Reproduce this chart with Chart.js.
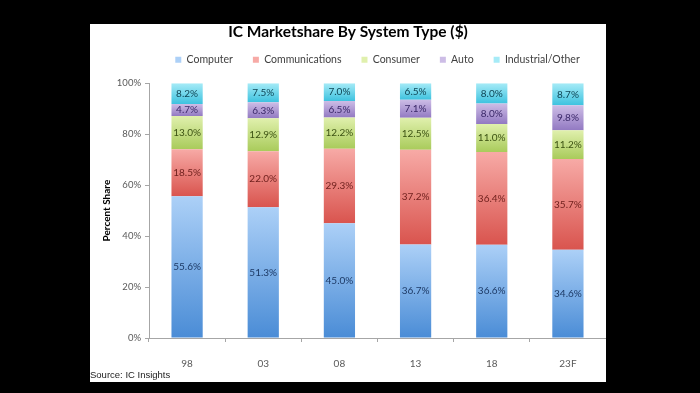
<!DOCTYPE html>
<html>
<head>
<meta charset="utf-8">
<script src="https://cdn.jsdelivr.net/npm/chart.js@4/dist/chart.umd.min.js"></script>
<style>
    html, body { margin: 0; padding: 0; background: #000; }
    body { width: 700px; height: 393px; position: relative; overflow: hidden; }
    #panel { position: absolute; left: 90px; top: 24px; width: 516px; height: 358px; background: #fff; }
    #chart { position: absolute; left: 0; top: 0; }
    #source { position: absolute; left: 0; top: 345px; font: 9.5px "Liberation Sans", Arial, sans-serif; color: #222; }
</style>
</head>
<body>
<div id="panel">
    <canvas id="chart" width="516" height="358"></canvas>
    <div id="source">Source: IC Insights</div>
</div>
<script>
//
// Data
//

const YEARS = [ '98', '03', '08', '13', '18', '23F' ]
const COMPUTER = [ 55.6, 51.3, 45.0, 36.7, 36.6, 34.6 ]
const COMMUNICATIONS = [ 18.5, 22.0, 29.3, 37.2, 36.4, 35.7 ]
const CONSUMER = [ 13.0, 12.9, 12.2, 12.5, 11.0, 11.2 ]
const AUTO = [ 4.7, 6.3, 6.5, 7.1, 8.0, 9.8 ]
const INDUSTRIAL = [ 8.2, 7.5, 7.0, 6.5, 8.0, 8.7 ]
const Y_TICKS = [ 0, 20, 40, 60, 80, 100 ]

// light top, dark bottom, legend swatch, label ink
const SERIES = [
    { label: 'Computer', data: COMPUTER, light: '#acd0f7', dark: '#4a8cd6', swatch: '#5b8fd4', ink: '#1d3a66' },
    { label: 'Communications', data: COMMUNICATIONS, light: '#f7aaa6', dark: '#d9544e', swatch: '#e0605a', ink: '#6e1f1c' },
    { label: 'Consumer', data: CONSUMER, light: '#e0f0ad', dark: '#a9cb5b', swatch: '#b7d66e', ink: '#3c5212' },
    { label: 'Auto', data: AUTO, light: '#cdbde6', dark: '#9279c2', swatch: '#a38ccd', ink: '#3a2868' },
    { label: 'Industrial/Other', data: INDUSTRIAL, light: '#a6ebf7', dark: '#3dc2df', swatch: '#4fc8e3', ink: '#0f4656' },
]

//
// Helpers
//

function shade (si) {
    return function (context) {
        const s = SERIES[si]
        const chart = context.chart
        const y = chart.scales.y
        if (context.type !== 'data' || !chart.chartArea || !y) return s.swatch
        const i = context.dataIndex
        let base = 0
        for (let k = 0; k < si; k++) base += SERIES[k].data[i]
        const top = base + s.data[i]
        const y0 = y.getPixelForValue(top)
        const y1 = y.getPixelForValue(base)
        if (!isFinite(y0) || !isFinite(y1)) return s.swatch
        const g = chart.ctx.createLinearGradient(0, y0, 0, y1)
        g.addColorStop(0, s.light)
        g.addColorStop(1, s.dark)
        return g
    }
}

const segmentLabels = {
    id: 'segmentLabels',
    afterDatasetsDraw (chart) {
        const ctx = chart.ctx
        ctx.save()
        ctx.font = '10px Lato'
        ctx.textAlign = 'center'
        ctx.textBaseline = 'middle'
        chart.data.datasets.forEach((ds, di) => {
            ctx.fillStyle = SERIES[di].ink
            chart.getDatasetMeta(di).data.forEach((bar, i) => {
                ctx.fillText(ds.data[i].toFixed(1) + '%', bar.x, (bar.y + bar.base) / 2)
            })
        })
        ctx.restore()
    },
}

//
// Chart
//

const ctx = document.getElementById('chart').getContext('2d')
const chart = new Chart(ctx, {
    type: 'bar',
    data: {
        labels: YEARS,
        datasets: SERIES.map((s, si) => ({
            label: s.label,
            data: s.data,
            backgroundColor: shade(si),
            borderWidth: 0,
            categoryPercentage: 1,
            barPercentage: 0.41,
        })),
    },
    options: {
        responsive: false,
        animation: false,
        devicePixelRatio: 1,
        layout: { padding: { top: 0, right: 0, bottom: 14, left: 0 } },
        plugins: {
            title: {
                display: true,
                text: 'IC Marketshare By System Type ($)',
                color: '#000',
                font: { family: 'Lato', size: 15.5, weight: 'bold', lineHeight: 1.0 },
                padding: { top: 0, bottom: -5 },
            },
            // blank spacer between legend and plot
            subtitle: {
                display: true,
                text: '',
                weight: 900,
                font: { size: 1 },
                padding: { top: 0, bottom: 7 },
            },
            legend: {
                position: 'top',
                fullSize: false,
                labels: {
                    color: '#404040',
                    font: { family: 'Lato', size: 10.5 },
                    boxWidth: 6,
                    boxHeight: 6,
                    padding: 20,
                },
            },
            tooltip: { enabled: false },
        },
        scales: {
            x: {
                stacked: true,
                grid: { drawOnChartArea: false, tickLength: 4, color: '#a6a6a6' },
                border: { color: '#a6a6a6' },
                ticks: { color: '#595959', font: { family: 'Lato', size: 10 }, padding: 16 },
                afterFit: (scale) => { scale.height = 30 },
            },
            y: {
                stacked: true,
                min: 0,
                max: 100,
                afterBuildTicks: (scale) => { scale.ticks = Y_TICKS.map((v) => ({ value: v })) },
                grid: { drawOnChartArea: false, tickLength: 4, color: '#a6a6a6' },
                border: { color: '#a6a6a6' },
                ticks: { color: '#595959', font: { family: 'Lato', size: 9.5 }, padding: 4, callback: (v) => v + '%' },
                title: {
                    display: true,
                    text: 'Percent Share',
                    color: '#000',
                    font: { family: 'Lato', size: 10, weight: 'bold' },
                    padding: { top: 11, bottom: 0 },
                },
                afterFit: (scale) => { scale.width = 59 },
            },
        },
    },
    plugins: [ segmentLabels ],
})
</script>
</body>
</html>
